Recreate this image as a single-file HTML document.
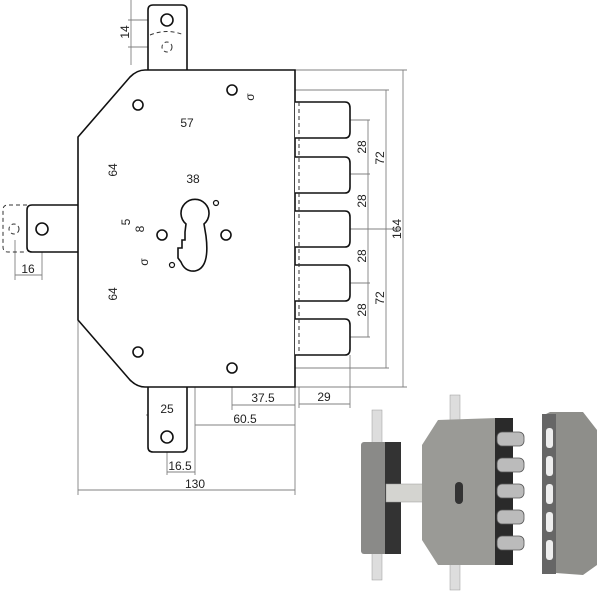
<!DOCTYPE html>
<html><head><meta charset="utf-8"><style>body{margin:0;background:#fff}svg{display:block}text{font-family:"Liberation Sans",sans-serif;font-size:12px;fill:#222}</style></head><body>
<svg width="600" height="600" viewBox="0 0 600 600" xmlns="http://www.w3.org/2000/svg">
<g stroke="#808080" stroke-width="0.9" fill="none">
<line x1="75" y1="229" x2="400" y2="229"/>
<line x1="195" y1="215" x2="195" y2="475"/>
<line x1="42" y1="229" x2="42" y2="280"/>
<line x1="15" y1="240" x2="15" y2="280"/>
<line x1="295" y1="70" x2="407" y2="70"/><line x1="295" y1="387" x2="407" y2="387"/><line x1="403" y1="70" x2="403" y2="387"/>
<line x1="236" y1="90" x2="389" y2="90"/><line x1="236" y1="368" x2="389" y2="368"/><line x1="386" y1="90" x2="386" y2="368"/>
<line x1="300" y1="120" x2="370" y2="120"/><line x1="300" y1="174" x2="370" y2="174"/><line x1="300" y1="283" x2="370" y2="283"/><line x1="300" y1="337" x2="370" y2="337"/><line x1="368" y1="120" x2="368" y2="337"/>
<line x1="299" y1="387" x2="299" y2="408"/><line x1="350" y1="355" x2="350" y2="408"/><line x1="299" y1="404" x2="350" y2="404"/>
<line x1="232" y1="368" x2="232" y2="410"/><line x1="232" y1="405" x2="295" y2="405"/>
<line x1="195" y1="425" x2="295" y2="425"/><line x1="295" y1="387" x2="295" y2="495"/>
<line x1="78" y1="318" x2="78" y2="495"/><line x1="78" y1="490" x2="295" y2="490"/>
<line x1="146" y1="415" x2="187" y2="415"/>
<line x1="167" y1="437" x2="167" y2="475"/><line x1="167" y1="472" x2="195" y2="472"/>
<line x1="15" y1="275" x2="42" y2="275"/>
<line x1="138" y1="105" x2="138" y2="132"/><line x1="232" y1="90" x2="232" y2="132"/><line x1="138" y1="129" x2="232" y2="129"/>
<line x1="118" y1="105" x2="138" y2="105"/><line x1="118" y1="352" x2="138" y2="352"/><line x1="118" y1="105" x2="118" y2="352"/>
<line x1="162" y1="185" x2="226" y2="185"/><line x1="162" y1="185" x2="162" y2="235"/><line x1="226" y1="185" x2="226" y2="235"/>
<line x1="132" y1="200" x2="132" y2="245"/><line x1="146" y1="210" x2="146" y2="248"/><line x1="128" y1="212" x2="165" y2="212"/><line x1="128" y1="220" x2="165" y2="220"/>
<line x1="131" y1="0" x2="131" y2="65"/><line x1="128" y1="20" x2="167" y2="20"/><line x1="128" y1="47" x2="167" y2="47"/>
<line x1="220" y1="78" x2="245" y2="102"/><line x1="150" y1="260" x2="172" y2="220"/>
</g>
<g stroke="#111" stroke-width="1.6" fill="#fff">
<path d="M148 70 V10 Q148 5 153 5 H182 Q187 5 187 10 V70"/>
<path d="M78 205 H32 Q27 205 27 210 V247 Q27 252 32 252 H78"/>
<path d="M148 387 V447 Q148 452 153 452 H182 Q187 452 187 447 V387"/>
<path d="M145 70 L295 70 L295 387 L145 387 Q137 387 130 380 L78 320 L78 137 L130 77 Q137 70 145 70 Z"/>
<path d="M295 102 H345 Q350 102 350 108 V132 Q350 138 345 138 H295"/>
<path d="M295 157 H345 Q350 157 350 163 V187 Q350 193 345 193 H295"/>
<path d="M295 211 H345 Q350 211 350 217 V241 Q350 247 345 247 H295"/>
<path d="M295 265 H345 Q350 265 350 271 V295 Q350 301 345 301 H295"/>
<path d="M295 319 H345 Q350 319 350 325 V349 Q350 355 345 355 H295"/>
<circle cx="167" cy="20" r="6"/><circle cx="42" cy="229" r="6"/><circle cx="167" cy="437" r="6"/>
<circle cx="138" cy="105" r="5"/><circle cx="232" cy="90" r="5"/><circle cx="138" cy="352" r="5"/><circle cx="232" cy="368" r="5"/>
<circle cx="162" cy="235" r="5"/><circle cx="226" cy="235" r="5"/>
<circle cx="216" cy="203" r="2.5" stroke-width="1.2"/><circle cx="172" cy="265" r="2.5" stroke-width="1.2"/>
<path d="M186 224 A14 14 0 1 1 204 224 L206 236 Q210 268 195 271 Q185 272 181 262 L178 258 L178 248 L182 248 L182 240 L185 240 L185 232 Z"/>
</g>
<g stroke="#333" stroke-width="1" fill="none" stroke-dasharray="4,3">
<path d="M150 35 Q167 28 184 35"/><circle cx="167" cy="47" r="5"/>
<path d="M27 205 H8 Q3 205 3 210 V247 Q3 252 8 252 H27"/><circle cx="14" cy="229" r="5"/>
<line x1="299" y1="102" x2="299" y2="355"/>
</g>
<text transform="translate(129 32) rotate(-90)" text-anchor="middle">14</text>
<text x="187" y="127" text-anchor="middle">57</text>
<text x="193" y="183" text-anchor="middle">38</text>
<text transform="translate(117 170) rotate(-90)" text-anchor="middle">64</text>
<text transform="translate(117 294) rotate(-90)" text-anchor="middle">64</text>
<text transform="translate(130 222) rotate(-90)" text-anchor="middle">5</text>
<text transform="translate(144 229) rotate(-90)" text-anchor="middle">8</text>
<text transform="translate(366 147) rotate(-90)" text-anchor="middle">28</text>
<text transform="translate(366 201) rotate(-90)" text-anchor="middle">28</text>
<text transform="translate(366 256) rotate(-90)" text-anchor="middle">28</text>
<text transform="translate(366 310) rotate(-90)" text-anchor="middle">28</text>
<text transform="translate(384 158) rotate(-90)" text-anchor="middle">72</text>
<text transform="translate(384 298) rotate(-90)" text-anchor="middle">72</text>
<text transform="translate(401 229) rotate(-90)" text-anchor="middle">164</text>
<text transform="translate(254 97) rotate(-90)" text-anchor="middle">σ</text>
<text transform="translate(148 262) rotate(-90)" text-anchor="middle">σ</text>
<text x="28" y="273" text-anchor="middle">16</text>
<text x="263" y="402" text-anchor="middle">37.5</text>
<text x="324" y="401" text-anchor="middle">29</text>
<text x="167" y="413" text-anchor="middle">25</text>
<text x="245" y="423" text-anchor="middle">60.5</text>
<text x="180" y="470" text-anchor="middle">16.5</text>
<text x="195" y="488" text-anchor="middle">130</text>
<g>
<rect x="372" y="410" width="10" height="170" fill="#ddd" stroke="#999" stroke-width="0.5"/>
<rect x="361" y="442" width="40" height="112" rx="3" fill="#8a8a88"/>
<rect x="385" y="442" width="16" height="112" fill="#333"/>
<rect x="386" y="484" width="50" height="18" fill="#d4d4d0" stroke="#999" stroke-width="0.5"/>
<rect x="450" y="395" width="10" height="195" fill="#ddd" stroke="#999" stroke-width="0.5"/>
<polygon points="438,420 497,418 497,565 438,565 422,540 422,445" fill="#9a9a96"/>
<rect x="495" y="418" width="18" height="147" fill="#2a2a2a"/>
<g fill="#bbb" stroke="#555" stroke-width="0.8">
<rect x="497" y="432" width="27" height="14" rx="5"/><rect x="497" y="458" width="27" height="14" rx="5"/><rect x="497" y="484" width="27" height="14" rx="5"/><rect x="497" y="510" width="27" height="14" rx="5"/><rect x="497" y="536" width="27" height="14" rx="5"/>
</g>
<rect x="455" y="482" width="8" height="22" rx="4" fill="#333"/>
<polygon points="542,416 550,412 583,412 597,430 597,565 583,575 542,572" fill="#8e8e8a"/>
<rect x="542" y="414" width="14" height="160" fill="#666"/>
<g fill="#eee"><rect x="546" y="428" width="7" height="20" rx="3"/><rect x="546" y="456" width="7" height="20" rx="3"/><rect x="546" y="484" width="7" height="20" rx="3"/><rect x="546" y="512" width="7" height="20" rx="3"/><rect x="546" y="540" width="7" height="20" rx="3"/></g>
</g>
</svg>
</body></html>
